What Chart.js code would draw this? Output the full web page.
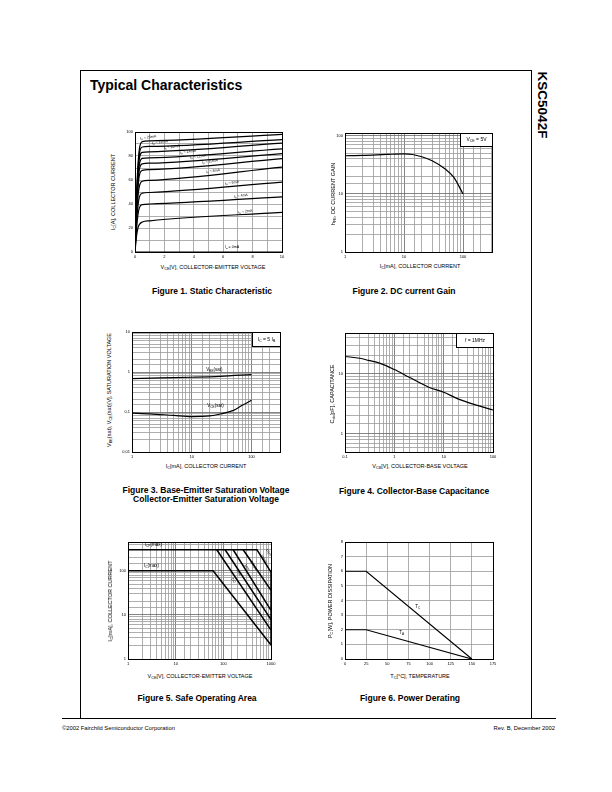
<!DOCTYPE html>
<html>
<head>
<meta charset="utf-8">
<script src="https://cdn.jsdelivr.net/npm/chart.js@4.4.1/dist/chart.umd.min.js"></script>
<style>
body { margin: 0; width: 612px; height: 792px; position: relative; background: #fff;
       font-family: "Liberation Sans", Arial, sans-serif; color: #000; }
.frame { position: absolute; left: 80px; top: 70px; width: 450px; height: 648px;
         border-left: 1px solid #000; border-top: 1px solid #000; border-right: 1px solid #000; }
.foot { position: absolute; left: 62px; top: 718px; width: 494px; height: 0; border-top: 1px solid #000; }
canvas { position: absolute; }
.t { position: absolute; white-space: nowrap; transform: translate(-50%, -50%); }
.ax { font-size: 5.5px; }
.yt { transform: translate(-50%, -50%) rotate(-90deg); }
.cap { font-weight: bold; font-size: 8.5px; text-align: center; line-height: 9px; }
sub { font-size: 70%; vertical-align: -1px; line-height: 0; }
</style>
</head>
<body>
<div class="frame"></div>
<div class="foot"></div>
<div class="t" style="left:90px;top:85px;transform:translate(0,-50%);font-weight:bold;font-size:14px">Typical Characteristics</div>
<div class="t" style="left:542px;top:105px;transform:translate(-50%,-50%) rotate(90deg);font-weight:bold;font-size:13.5px">KSC5042F</div>
<div class="t" style="left:62px;top:728px;transform:translate(0,-50%);font-size:5.8px">©2002 Fairchild Semiconductor Corporation</div>
<div class="t" style="left:555px;top:728px;transform:translate(-100%,-50%);font-size:5.8px">Rev. B, December 2002</div>

<canvas id="f1"></canvas><canvas id="f2"></canvas><canvas id="f3"></canvas>
<canvas id="f4"></canvas><canvas id="f5"></canvas><canvas id="f6"></canvas>
<div id="texts"></div>

<script>
// ---- Figure 1: static characteristic (Ic vs Vce, one curve per Ib) ----
const f1V = [0, 0.1, 0.2, 0.3, 0.5, 1, 10];
const f1Ib20 = [0, 45, 72, 86, 92, 92.6, 98];
const f1Ib18 = [0, 42, 68, 82, 87.5, 88, 93.6];
const f1Ib16 = [0, 40, 65, 78, 83, 83.5, 90.8];
const f1Ib14 = [0, 38, 61, 73, 78, 78.5, 86];
const f1Ib12 = [0, 36, 58, 69, 73.5, 74, 82];
const f1Ib10 = [0, 33, 53, 64, 68, 68.6, 77.8];
const f1Ib8 = [0, 29, 46, 55, 59, 59.7, 70.8];
const f1Ib6 = [0, 24, 38, 46, 49, 49.6, 58.3];
const f1Ib4 = [0, 19, 31, 37, 39.5, 40, 46];
const f1Ib2 = [0, 13, 20, 23, 25, 26, 33];
const f1Ib0 = [0, 0];
const f1Ib0V = [0, 10];
const f1XTicks = [0, 2, 4, 6, 8, 10];
const f1YTicks = [0, 20, 40, 60, 80, 100];

// ---- Figure 2: DC current gain ----
const f2Ic = [1, 2, 5, 10, 14, 20, 30, 50, 70, 100];
const f2Hfe = [45.4, 46, 47.8, 49, 47.8, 43.7, 37.3, 26.8, 19.3, 10];
const f2XTicks = [1, 10, 100];
const f2YTicks = [1, 10, 100];

// ---- Figure 3: saturation voltages ----
const f3IcBe = [1, 3, 10, 30, 100];
const f3Vbe = [0.68, 0.71, 0.74, 0.78, 0.86];
const f3IcCe = [1, 2, 5, 10, 20, 30, 50, 70, 100];
const f3Vce = [0.094, 0.09, 0.082, 0.077, 0.08, 0.089, 0.11, 0.147, 0.196];
const f3XTicks = [1, 10, 100];
const f3YTicks = [0.01, 0.1, 1, 10];

// ---- Figure 4: collector-base capacitance ----
const f4Vcb = [0.1, 0.2, 0.3, 0.5, 1, 2, 5, 10, 20, 50, 100];
const f4Cob = [19.5, 18.2, 16.8, 15.1, 11.8, 8.8, 6.0, 4.95, 3.8, 2.96, 2.5];
const f4XTicks = [0.1, 1, 10, 100];
const f4YTicks = [1, 10];

// ---- Figure 5: safe operating area ----
const f5IcpV = [1, 508, 1000, 1000];
const f5IcpI = [300, 300, 93, 2.07];
const f5DcV = [1, 61, 1000];
const f5DcI = [100, 100, 2.07];
const f5P5msV = [72.8, 1000];
const f5P5msI = [300, 4.5];
const f5P1msV = [109, 1000];
const f5P1msI = [300, 7.85];
const f5P500V = [161, 1000];
const f5P500I = [300, 12.7];
const f5P100V = [261, 1000];
const f5P100I = [300, 36];
const f5XTicks = [1, 10, 100, 1000];
const f5YTicks = [1, 10, 100];

// ---- Figure 6: power derating ----
const f6Temp = [0, 25, 150];
const f6Tc = [6, 6, 0];
const f6Ta = [2, 2, 0];
const f6XTicks = [0, 25, 50, 75, 100, 125, 150, 175];
const f6YTicks = [0, 1, 2, 3, 4, 5, 6, 7, 8];

const FONT = '"Liberation Sans", Arial, sans-serif';

function pts(xs, ys) { return xs.map((x, i) => ({ x: x, y: ys[i] })); }
function has(list, v) { return list.some(d => Math.abs(d - v) <= Math.abs(d) * 1e-6 + 1e-12); }
function html(s) { return s.replace(/_\{([^}]*)\}/g, '<sub>$1</sub>'); }

// text with subscripts, drawn around (0,0)
function rich(ctx, str, size, align) {
  const parts = str.split(/(_\{[^}]*\})/).filter(Boolean).map(p =>
    p.startsWith('_{') ? { t: p.slice(2, -1), s: true } : { t: p, s: false });
  let w = 0;
  parts.forEach(p => {
    ctx.font = (p.s ? size * 0.7 : size) + 'px ' + FONT;
    p.w = ctx.measureText(p.t).width; w += p.w;
  });
  let x = align === 'left' ? 0 : -w / 2;
  ctx.textBaseline = 'middle';
  ctx.textAlign = 'left';
  parts.forEach(p => {
    ctx.font = (p.s ? size * 0.7 : size) + 'px ' + FONT;
    ctx.fillText(p.t, x, p.s ? size * 0.3 : 0);
    x += p.w;
  });
}

const notes = {
  id: 'notes',
  afterDatasetsDraw(chart, args, opts) {
    const ctx = chart.ctx, a = chart.chartArea;
    const sx = chart.scales.x, sy = chart.scales.y;
    ctx.save();
    ctx.fillStyle = '#000';
    (opts.items || []).forEach(n => {
      ctx.save();
      ctx.translate(sx.getPixelForValue(n.x), sy.getPixelForValue(n.y));
      ctx.rotate((n.rot || 0) * Math.PI / 180);
      rich(ctx, n.text, n.size || 4, n.align);
      ctx.restore();
    });
    if (opts.box) {
      const b = opts.box;
      const l = Math.round(a.right - b.w) + 0.5, t = Math.round(a.top) + 0.5;
      ctx.fillStyle = '#fff';
      ctx.fillRect(l, t, b.w, b.h);
      ctx.strokeStyle = '#000'; ctx.lineWidth = 1;
      ctx.strokeRect(l, t, b.w, b.h);
      ctx.fillStyle = '#000';
      ctx.save();
      ctx.translate(l + b.w / 2, t + b.h / 2);
      rich(ctx, b.text, 5);
      ctx.restore();
    }
    ctx.strokeStyle = '#000'; ctx.lineWidth = 1;
    ctx.strokeRect(Math.round(a.left) + 0.5, Math.round(a.top) + 0.5,
                   Math.round(a.width), Math.round(a.height));
    ctx.restore();
  }
};

function axis(type, min, max, labels, step, isX, log) {
  const ax = {
    type: type, min: min, max: max,
    afterFit: s => { if (isX) s.height = 10; else s.width = 16; },
    border: { display: false },
    grid: {
      drawTicks: false, lineWidth: 0.8,
      color: c => (log && c.tick && has(labels, c.tick.value)) ? '#666' : '#999'
    },
    ticks: {
      autoSkip: false, maxRotation: 0, padding: 2, color: '#000',
      font: { size: 4, family: FONT },
      callback: v => has(labels, v) ? String(v) : ''
    }
  };
  if (step) ax.ticks.stepSize = step;
  return ax;
}

function line(data, extra) {
  return Object.assign({ data: data, borderColor: '#000', borderWidth: 1.2,
    pointRadius: 0, fill: false, tension: 0 }, extra || {});
}

function plot(id, rect, datasets, scales, items, box) {
  const c = document.getElementById(id);
  const w = rect.r - rect.l, h = rect.b - rect.t;
  c.width = w + 16 + 8; c.height = h + 5 + 10;
  c.style.left = (rect.l - 16) + 'px'; c.style.top = (rect.t - 5) + 'px';
  new Chart(c, {
    type: 'line',
    data: { datasets: datasets },
    options: {
      responsive: false, animation: false, parsing: true,
      layout: { padding: { top: 5, right: 8, left: 0, bottom: 0 } },
      plugins: { legend: { display: false }, tooltip: { enabled: false },
                 notes: { items: items, box: box } },
      scales: scales
    },
    plugins: [notes]
  });
}

function text(x, y, str, cls) {
  const d = document.createElement('div');
  d.className = 't ' + cls;
  d.style.left = x + 'px'; d.style.top = y + 'px';
  d.innerHTML = html(str);
  document.getElementById('texts').appendChild(d);
}

const mono = { cubicInterpolationMode: 'monotone' };

// Figure 1
const f1Curves = [f1Ib20, f1Ib18, f1Ib16, f1Ib14, f1Ib12, f1Ib10, f1Ib8, f1Ib6, f1Ib4, f1Ib2];
const f1Names = ['20mA', '18mA', '16mA', '14mA', '12mA', '10mA', '8mA', '6mA', '4mA', '2mA'];
const f1LabelX = [0.9, 1.7, 2.5, 3.6, 4.3, 5.1, 5.3, 6.6, 7.2, 7.5];
const f1LabelY = [95.5, 91.5, 87.5, 83.5, 79.5, 75.5, 67.5, 57.7, 46.8, 33.7];
plot('f1', { l: 135, t: 132, r: 282, b: 252 },
  f1Curves.map(c => line(pts(f1V, c), mono)).concat([line(pts(f1Ib0V, f1Ib0))]),
  { x: axis('linear', 0, 10, f1XTicks, 1, true), y: axis('linear', 0, 100, f1YTicks, 10, false) },
  f1Names.map((n, i) => ({ x: f1LabelX[i], y: f1LabelY[i], text: 'I_{B} = ' + n, rot: -8, size: 3.6 }))
    .concat([{ x: 6.6, y: 4, text: 'I_{B} = 0mA', size: 3.6 }]));

// Figure 2
plot('f2', { l: 345, t: 133, r: 492, b: 252 },
  [line(pts(f2Ic, f2Hfe), mono)],
  { x: axis('logarithmic', 1, 310, f2XTicks, 0, true, true),
    y: axis('logarithmic', 1, 112, f2YTicks, 0, false, true) },
  [], { w: 32, h: 13, text: 'V_{CE} = 5V' });

// Figure 3
plot('f3', { l: 132, t: 332, r: 280, b: 452 },
  [line(pts(f3IcBe, f3Vbe), mono), line(pts(f3IcCe, f3Vce), mono)],
  { x: axis('logarithmic', 1, 300, f3XTicks, 0, true, true),
    y: axis('logarithmic', 0.01, 10, f3YTicks, 0, false, true) },
  [{ x: 24, y: 1.16, text: 'V_{BE}(sat)', size: 4.5 },
   { x: 25, y: 0.14, text: 'V_{CE}(sat)', size: 4.5 }],
  { w: 28, h: 14, text: 'I_{C} = 5 I_{B}' });

// Figure 4
plot('f4', { l: 345, t: 333, r: 493, b: 452 },
  [line(pts(f4Vcb, f4Cob), mono)],
  { x: axis('logarithmic', 0.1, 100, f4XTicks, 0, true, true),
    y: axis('logarithmic', 0.5, 48, f4YTicks, 0, false, true) },
  [], { w: 37, h: 14, text: 'f = 1MHz' });

// Figure 5
plot('f5', { l: 128, t: 542, r: 271, b: 659 },
  [line(pts(f5IcpV, f5IcpI), { borderWidth: 1.5 }), line(pts(f5DcV, f5DcI), { borderWidth: 1.5 }),
   line(pts(f5P5msV, f5P5msI), { borderWidth: 1.5 }), line(pts(f5P1msV, f5P1msI), { borderWidth: 1.5 }),
   line(pts(f5P500V, f5P500I), { borderWidth: 1.5 }), line(pts(f5P100V, f5P100I), { borderWidth: 1.5 })],
  { x: axis('logarithmic', 1, 1000, f5XTicks, 0, true, true),
    y: axis('logarithmic', 1, 450, f5YTicks, 0, false, true) },
  [{ x: 3.4, y: 390, text: 'I_{CP}(max)', size: 4.5 },
   { x: 3.1, y: 132, text: 'I_{C}(max)', size: 4.5 },
   { x: 164, y: 60, text: 'DC', rot: 56, size: 3.6 },
   { x: 208, y: 93, text: '5ms', rot: 56, size: 3.6 },
   { x: 312, y: 121, text: '1ms', rot: 56, size: 3.6 },
   { x: 432, y: 132, text: '500μs', rot: 56, size: 3.6 },
   { x: 702, y: 186, text: '100μs', rot: 56, size: 3.6 },
   { x: 893, y: 264, text: '10μs', rot: 56, size: 3.6 }]);

// Figure 6
plot('f6', { l: 345, t: 542, r: 493, b: 659 },
  [line(pts(f6Temp, f6Tc)), line(pts(f6Temp, f6Ta))],
  { x: axis('linear', 0, 175, f6XTicks, 25, true), y: axis('linear', 0, 8, f6YTicks, 1, false) },
  [{ x: 86, y: 3.6, text: 'T_{C}', size: 4.5 }, { x: 67, y: 1.8, text: 'T_{A}', size: 4.5 }]);

// axis titles and captions
text(213, 267, 'V_{CE}[V], COLLECTOR-EMITTER VOLTAGE', 'ax');
text(113, 192, 'I_{C}[A], COLLECTOR CURRENT', 'ax yt');
text(420, 266, 'I_{C}[mA], COLLECTOR CURRENT', 'ax');
text(333, 194, 'h_{FE}, DC CURRENT GAIN', 'ax yt');
text(206, 466, 'I_{C}[mA], COLLECTOR CURRENT', 'ax');
text(109, 390, 'V_{BE}(sat), V_{CE}(sat)[V], SATURATION VOLTAGE', 'ax yt');
text(420, 466, 'V_{CB}[V], COLLECTOR-BASE VOLTAGE', 'ax');
text(332, 394, 'C_{ob}[pF], CAPACITANCE', 'ax yt');
text(200, 676, 'V_{CE}[V], COLLECTOR-EMITTER VOLTAGE', 'ax');
text(110, 601, 'I_{C}[mA], COLLECTOR CURRENT', 'ax yt');
text(420, 676, 'T_{C}[°C], TEMPERATURE', 'ax');
text(330, 601, 'P_{C}[W], POWER DISSIPATION', 'ax yt');

text(212, 291, 'Figure 1. Static Characteristic', 'cap');
text(404, 291, 'Figure 2. DC current Gain', 'cap');
text(206, 495, 'Figure 3. Base-Emitter Saturation Voltage<br>Collector-Emitter Saturation Voltage', 'cap');
text(414, 491, 'Figure 4. Collector-Base Capacitance', 'cap');
text(197, 698, 'Figure 5. Safe Operating Area', 'cap');
text(410, 698, 'Figure 6. Power Derating', 'cap');
</script>
</body>
</html>
